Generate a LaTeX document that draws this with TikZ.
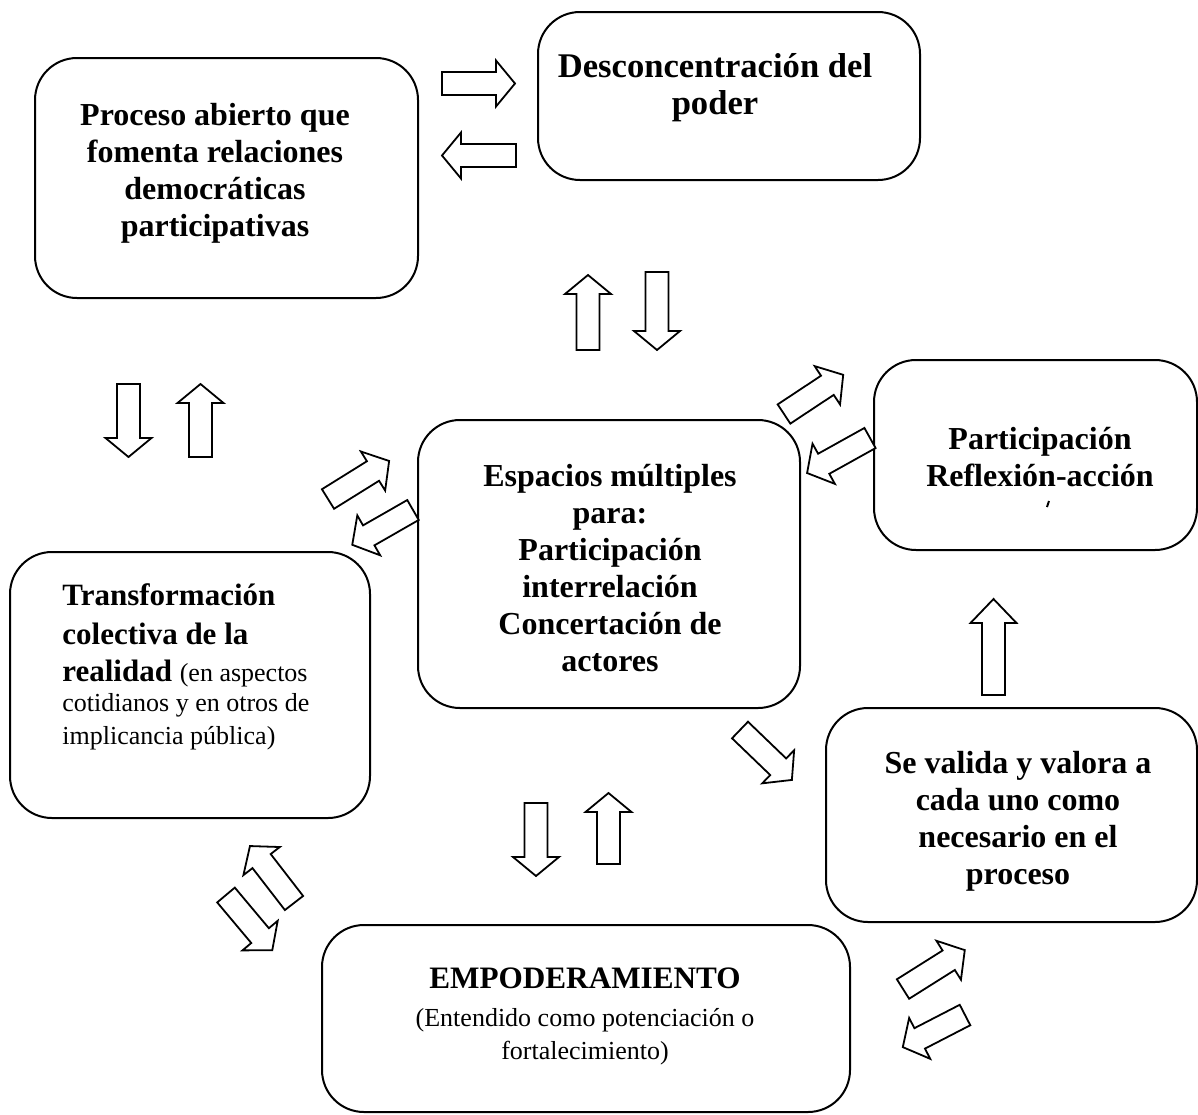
\documentclass[tikz,border=0pt]{standalone}
\usepackage{fontspec}
\setmainfont{Liberation Serif}
\tikzset{
  box/.style={draw, line width=1pt, rounded corners=21pt, inner sep=0pt},
  blk/.style={draw, line width=0.9pt, line join=miter, fill=white},
  bt/.style={font=\fontsize{16}{18.5}\selectfont\bfseries, align=center, inner sep=0pt},
  nt/.style={font=\fontsize{13}{16.5}\selectfont, align=center, inner sep=0pt},
}
\newcommand{\blockarr}[4]{\begin{scope}[shift={(#1)},rotate=#2]
\draw[blk] (0,-11.5) -- ({#3-#4},-11.5) -- ({#3-#4},-23) -- (#3,0) -- ({#3-#4},23) -- ({#3-#4},11.5) -- (0,11.5) -- cycle;
\end{scope}}
\begin{document}
\begin{tikzpicture}[x=0.5pt,y=-0.5pt]
\useasboundingbox (0,0) rectangle (1198,1114);
% boxes
\node[box, minimum width=191.5pt, minimum height=120pt] (b1) at (226.5,178) {};
\node[box, minimum width=191pt, minimum height=84pt] (b2) at (729,96) {};
\node[box, minimum width=161.5pt, minimum height=95pt] (b3) at (1035.5,455) {};
\node[box, minimum width=191pt, minimum height=144pt] (b4) at (609,564) {};
\node[box, minimum width=180pt, minimum height=133pt] (b5) at (190,685) {};
\node[box, minimum width=185.5pt, minimum height=107pt] (b6) at (1011.5,815) {};
\node[box, minimum width=264pt, minimum height=93.5pt] (b7) at (586,1018.5) {};
% texts
\node[bt] (t1) at (215,173) {Proceso abierto que\\fomenta relaciones\\democráticas\\participativas};
\node[bt, font=\fontsize{17.3}{18.5}\selectfont\bfseries] (t2) at (715,88) {Desconcentración del\\poder};
\node[bt] (t3) at (1040,457) {Participación\\Reflexión-acción};
\draw[line width=1pt] (1047,507) -- (1049,501);
\node[bt] (t4) at (610,568) {Espacios múltiples\\para:\\Participación\\interrelación\\Concertación de\\actores};
\node[bt, font=\fontsize{15.5}{18.5}\selectfont\bfseries, anchor=west] (t5a) at (62,595) {Transformación};
\node[bt, font=\fontsize{15.5}{18.5}\selectfont\bfseries, anchor=west] (t5b) at (62,634) {colectiva de la};
\node[bt, font=\fontsize{15.5}{18.5}\selectfont\bfseries, anchor=west] (t5c) at (62,673) {realidad {\fontsize{13}{16}\selectfont\mdseries (en aspectos}};
\node[nt, anchor=west] (t5d) at (62,705) {cotidianos y en otros de};
\node[nt, anchor=west] (t5e) at (62,738) {implicancia pública)};
\node[bt] (t6) at (1018,821) {Se valida y valora a\\cada uno como\\necesario en el\\proceso};
\node[bt, font=\fontsize{15.6}{18.5}\selectfont\bfseries] (t7) at (585,978) {EMPODERAMIENTO};
\node[nt] (t7b) at (585,1037) {(Entendido como potenciación o\\fortalecimiento)};
% block arrows: tail, angle, length, head length
\blockarr{442,83.5}{0}{73}{19}
\blockarr{516,155.5}{180}{74}{19}
\blockarr{588,350}{90}{75}{19}
\blockarr{657,272}{-90}{78}{19}
\blockarr{128.5,384}{-90}{73}{19}
\blockarr{200.5,457}{90}{73}{19}
\blockarr{328,499}{31.9}{72}{19}
\blockarr{413,510}{209.8}{70}{19}
\blockarr{784,414}{33.5}{71}{19}
\blockarr{870,438}{209.1}{72}{19}
\blockarr{740,730}{-43.9}{72}{19}
\blockarr{536,803}{-90}{73}{19}
\blockarr{608.5,864}{90}{71}{19}
\blockarr{993.5,695}{90}{96}{24}
\blockarr{294,903}{127.7}{72}{19}
\blockarr{226,895}{-50}{72}{19}
\blockarr{903,989}{32.2}{73}{19}
\blockarr{965,1015}{207.3}{70}{19}
\end{tikzpicture}
\end{document}
